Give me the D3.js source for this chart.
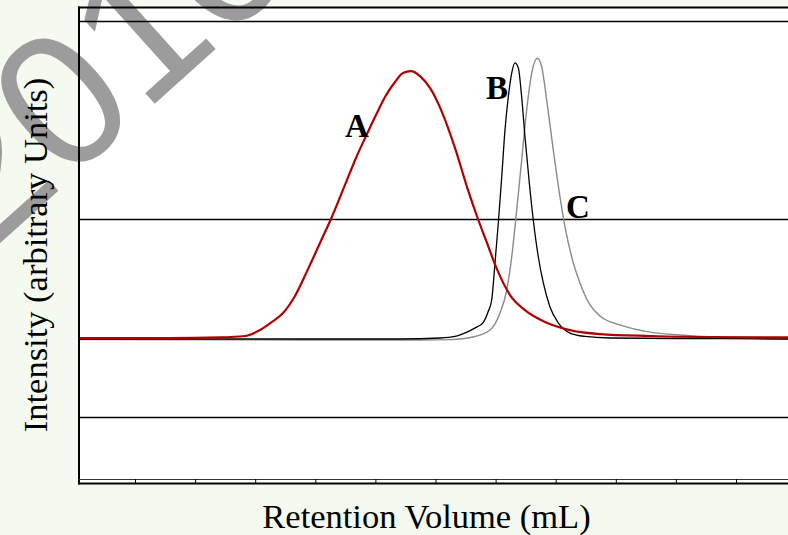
<!DOCTYPE html>
<html>
<head>
<meta charset="utf-8">
<script src="https://cdn.jsdelivr.net/npm/d3@7"></script>
<style>
  body { margin: 0; background: #f4faef; }
  svg { display: block; }
</style>
</head>
<body>
<div id="chart"></div>
<script>
// curve A (red)
const volumeA = [0.068, 0.750, 1.582, 2.414, 2.830, 3.080, 3.280, 3.463, 3.662, 3.879, 4.078, 4.261,
  4.494, 4.677, 4.844, 5.010, 5.160, 5.326, 5.459, 5.592, 5.742, 5.908, 6.108, 6.324, 6.541, 6.707,
  6.857, 7.007, 7.240, 7.489, 7.822, 8.238, 8.737, 9.569, 10.401, 11.865, 12.2];
const intensityA = [-0.601, -0.601, -0.601, -0.598, -0.591, -0.561, -0.520, -0.475, -0.389, -0.253, -0.121, 0,
  0.172, 0.308, 0.419, 0.525, 0.616, 0.692, 0.737, 0.747, 0.722, 0.662, 0.540, 0.359, 0.146, 0,
  -0.121, -0.242, -0.384, -0.460, -0.520, -0.561, -0.581, -0.591, -0.596, -0.598, -0.598];

// curve B (black)
const volumeB = [0.068, 3.745, 5.409, 6.075, 6.324, 6.524, 6.691, 6.790, 6.874, 6.935, 6.990, 7.045,
  7.102, 7.156, 7.211, 7.268, 7.323, 7.378, 7.434, 7.489, 7.561, 7.627, 7.711, 7.794, 7.905, 8.043,
  8.238, 8.488, 8.903, 10.401, 11.865, 12.2];
const intensityB = [-0.606, -0.606, -0.606, -0.601, -0.593, -0.571, -0.545, -0.525, -0.470, -0.409, -0.222, -0.020,
  0.212, 0.449, 0.616, 0.737, 0.789, 0.763, 0.616, 0.414, 0.182, -0.005, -0.192, -0.323, -0.444, -0.525,
  -0.576, -0.593, -0.601, -0.604, -0.606, -0.606];

// curve C (grey)
const volumeC = [0.068, 3.745, 5.742, 6.241, 6.624, 6.907, 7.073, 7.185, 7.268, 7.351, 7.434, 7.517,
  7.601, 7.694, 7.767, 7.850, 7.960, 8.072, 8.155, 8.266, 8.404, 8.571, 8.737, 9.070, 9.519, 10.068,
  10.734, 11.865, 12.2];
const intensityC = [-0.609, -0.611, -0.611, -0.609, -0.596, -0.561, -0.475, -0.359, -0.192, 0.045, 0.298, 0.551,
  0.737, 0.812, 0.769, 0.601, 0.348, 0.111, -0.040, -0.192, -0.323, -0.434, -0.490, -0.535, -0.569, -0.586,
  -0.598, -0.606, -0.606];

const labelNames = ['A', 'B', 'C'];
const labelVolume = [4.494, 6.840, 8.171];
const labelIntensity = [0.414, 0.606, 0.005];

const xTicks = [1, 2, 3, 4, 5, 6, 7, 8, 9, 10, 11];
const yGrid = [-1, 0, 1];

const W = 788, H = 535;
const PLOT = { LEFT: 79, TOP: 7.5, RIGHT: 800, BOTTOM: 483 };

const svg = d3.select('#chart')
  .append('svg')
  .attr('width', W)
  .attr('height', H);

const x = d3.scaleLinear().domain([1, 11]).range([135, 736]);
const y = d3.scaleLinear().domain([-1, 1]).range([417, 21]);

// plot area
svg.append('rect')
  .attr('x', PLOT.LEFT)
  .attr('y', PLOT.TOP)
  .attr('width', PLOT.RIGHT - PLOT.LEFT)
  .attr('height', PLOT.BOTTOM - PLOT.TOP)
  .attr('fill', '#ffffff');

// watermark behind the chart lines
svg.append('text')
  .attr('transform', 'translate(-13,255) rotate(-42)')
  .attr('font-family', '"Liberation Sans", Arial, sans-serif')
  .attr('font-size', 190)
  .attr('fill', '#9c9c9c')
  .text('2010');

// gridlines
const gridAxis = d3.axisLeft(y)
  .tickValues(yGrid)
  .tickSize(-(PLOT.RIGHT - PLOT.LEFT))
  .tickFormat('');
svg.append('g')
  .attr('transform', `translate(${PLOT.LEFT},0)`)
  .call(gridAxis)
  .call(g => g.select('.domain').remove())
  .call(g => g.selectAll('line').attr('stroke', '#000').attr('stroke-width', 1.3));

const line = d3.line()
  .x(d => x(d[0]))
  .y(d => y(d[1]))
  .curve(d3.curveMonotoneX);

const series = [
  { vol: volumeC, int: intensityC, color: '#8a8a8a', width: 1.4 },
  { vol: volumeB, int: intensityB, color: '#000000', width: 1.3 },
  { vol: volumeA, int: intensityA, color: '#b00000', width: 2.2 }
];

series.forEach(s => {
  svg.append('path')
    .datum(s.vol.map((v, i) => [v, s.int[i]]))
    .attr('fill', 'none')
    .attr('stroke', s.color)
    .attr('stroke-width', s.width)
    .attr('stroke-linejoin', 'round')
    .attr('d', line);
});

// frame
svg.append('line')
  .attr('x1', PLOT.LEFT - 1).attr('x2', PLOT.RIGHT)
  .attr('y1', PLOT.TOP).attr('y2', PLOT.TOP)
  .attr('stroke', '#000').attr('stroke-width', 2);
svg.append('line')
  .attr('x1', PLOT.LEFT).attr('x2', PLOT.LEFT)
  .attr('y1', PLOT.TOP - 1).attr('y2', PLOT.BOTTOM + 1.5)
  .attr('stroke', '#000').attr('stroke-width', 2);
svg.append('line')
  .attr('x1', PLOT.LEFT).attr('x2', PLOT.RIGHT)
  .attr('y1', PLOT.BOTTOM - 3.5).attr('y2', PLOT.BOTTOM - 3.5)
  .attr('stroke', '#333').attr('stroke-width', 1);
svg.append('line')
  .attr('x1', PLOT.LEFT - 1).attr('x2', PLOT.RIGHT)
  .attr('y1', PLOT.BOTTOM + 0.5).attr('y2', PLOT.BOTTOM + 0.5)
  .attr('stroke', '#000').attr('stroke-width', 2);

// x ticks, pointing up, no labels
const xAxis = d3.axisBottom(x)
  .tickValues(xTicks)
  .tickSize(-4)
  .tickFormat('');
svg.append('g')
  .attr('transform', `translate(0,${PLOT.BOTTOM})`)
  .call(xAxis)
  .call(g => g.select('.domain').remove())
  .call(g => g.selectAll('line').attr('stroke', '#000').attr('stroke-width', 1));

// peak labels
svg.selectAll('.peak')
  .data(labelNames)
  .enter().append('text')
  .attr('class', 'peak')
  .attr('x', (d, i) => x(labelVolume[i]))
  .attr('y', (d, i) => y(labelIntensity[i]))
  .attr('font-family', '"Liberation Serif", "Times New Roman", serif')
  .attr('font-weight', 'bold')
  .attr('font-size', 33)
  .attr('fill', '#000')
  .text(d => d);

// axis titles
svg.append('text')
  .attr('x', 426.5)
  .attr('y', 528)
  .attr('text-anchor', 'middle')
  .attr('font-family', '"Liberation Serif", "Times New Roman", serif')
  .attr('font-size', 34.5)
  .attr('fill', '#000')
  .text('Retention Volume (mL)');

svg.append('text')
  .attr('transform', 'translate(47,255) rotate(-90)')
  .attr('text-anchor', 'middle')
  .attr('font-family', '"Liberation Serif", "Times New Roman", serif')
  .attr('font-size', 34.5)
  .attr('fill', '#000')
  .text('Intensity (arbitrary Units)');
</script>
</body>
</html>
